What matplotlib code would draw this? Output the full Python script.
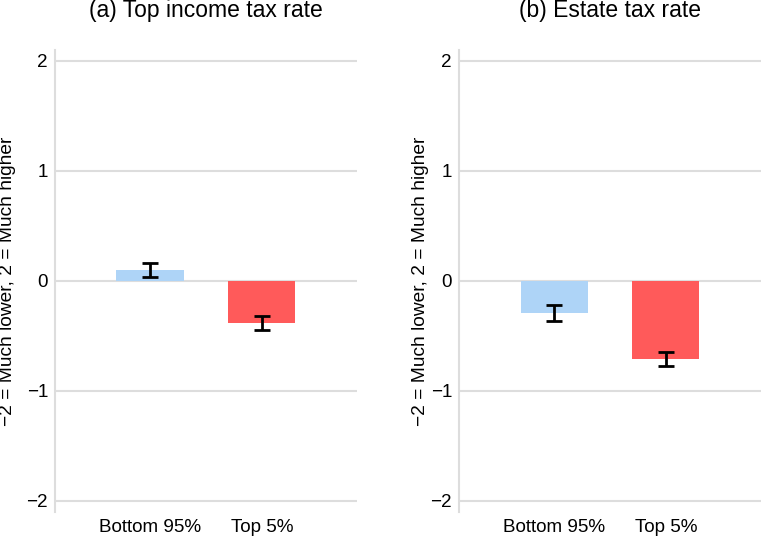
import matplotlib
matplotlib.use("Agg")
import matplotlib.pyplot as plt

plt.rcParams['font.family'] = ['Liberation Sans', 'DejaVu Sans']

categories = ["Bottom 95%", "Top 5%"]
titles = ["(a) Top income tax rate", "(b) Estate tax rate"]
income_vals = [0.10, -0.38]
income_err = [0.066, 0.062]
estate_vals = [-0.29, -0.71]
estate_err = [0.07, 0.065]
yticks = [-2, -1, 0, 1, 2]
ytick_labels = ["\u22122", "\u22121", "0", "1", "2"]
ylabel = "\u22122 = Much lower, 2 = Much higher"
colors = ["#AED4F7", "#FF5A5A"]

fig = plt.figure(figsize=(7.68, 5.36), dpi=100)
positions = [[0.0716, 0.0448, 0.393, 0.862], [0.5977, 0.0448, 0.393, 0.862]]
label_x = [-0.128, -0.100]
data = [(income_vals, income_err), (estate_vals, estate_err)]

for pos, lx, title, (vals, errs) in zip(positions, label_x, titles, data):
    ax = fig.add_axes(pos)
    x = list(range(len(categories)))
    ax.bar(x, vals, width=0.6, color=colors, zorder=3)
    ax.errorbar(x, vals, yerr=errs, fmt='none', ecolor='black', elinewidth=2.0,
                capsize=5.5, capthick=2.0, zorder=4)
    ax.set_xlim(-0.85, 1.85)
    ax.set_ylim(-2.1, 2.1)
    ax.set_yticks(yticks)
    ax.set_yticklabels(ytick_labels)
    ax.set_xticks(x)
    ax.set_xticklabels(categories)
    ax.tick_params(axis='both', length=0, labelsize=13.6, colors='black')
    ax.tick_params(axis='y', pad=5)
    ax.tick_params(axis='x', pad=5)
    ax.yaxis.grid(True, color='#DDDDDD', linewidth=1.5, zorder=0)
    ax.set_axisbelow(True)
    for s in ['top', 'right', 'bottom']:
        ax.spines[s].set_visible(False)
    ax.spines['left'].set_color('#DDDDDD')
    ax.spines['left'].set_linewidth(1.5)
    ax.set_ylabel(ylabel, fontsize=13.8)
    ax.yaxis.set_label_coords(lx, 0.5)
    ax.set_title(title, fontsize=16.5, pad=23.5)

fig.savefig("out.png", dpi=100, facecolor='white')
